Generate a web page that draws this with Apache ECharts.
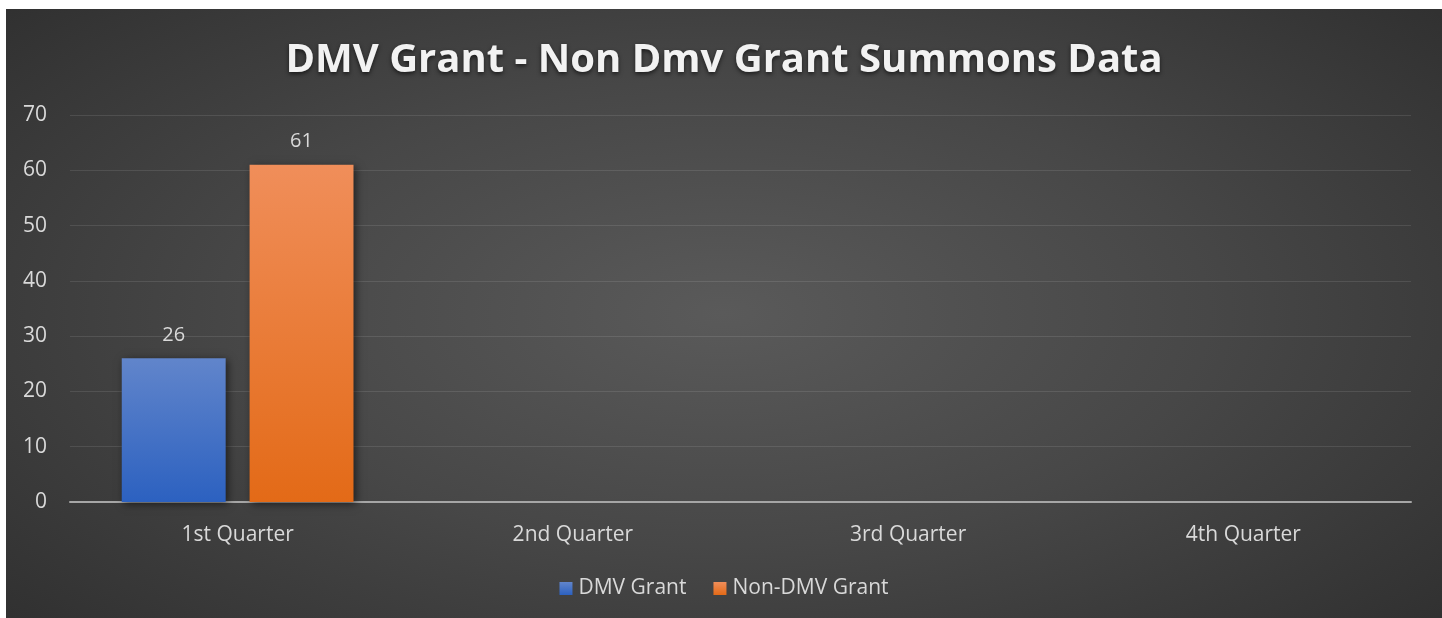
<!DOCTYPE html>
<html><head><meta charset="utf-8">
<script src="https://cdn.jsdelivr.net/npm/echarts@6/dist/echarts.min.js"></script>
<style>
html,body{margin:0;padding:0;background:#fff;width:1442px;height:618px;overflow:hidden}
#c{position:absolute;left:6px;top:9px;width:1436px;height:609px;
background:radial-gradient(ellipse 75% 85% at 50% 50%, #5a5a5a 0%, #474747 45%, #2b2b2b 100%);}
</style></head><body>
<div id="c"></div>
<script>
const categories = ['1st Quarter','2nd Quarter','3rd Quarter','4th Quarter'];
const dmvGrant = [26, null, null, null];
const nonDmvGrant = [61, null, null, null];
const yTicks = {min:0, max:70, interval:10};

const chart = echarts.init(document.getElementById('c'));
const lbl = {show:true, position:'top', distance:13, color:'#d9d9d9', fontSize:20, fontFamily:'Open Sans'};
chart.setOption({
  backgroundColor:'transparent',
  animation:false,
  title:{text:'DMV Grant - Non Dmv Grant Summons Data', left:'center', top:27,
    textStyle:{color:'#f2f2f2', fontSize:40, fontWeight:'bold', fontFamily:'Open Sans',
      textShadowColor:'rgba(0,0,0,0.6)', textShadowBlur:4, textShadowOffsetY:2}},
  grid:{left:64, right:31, top:106, bottom:116, containLabel:false},
  legend:{bottom:14, left:'center', itemWidth:13, itemHeight:13, itemGap:27, icon:'rect',
    textStyle:{color:'#d9d9d9', fontSize:21, fontFamily:'Open Sans', padding:[0,0,0,1]}},
  xAxis:{type:'category', data:categories,
    axisLine:{lineStyle:{color:'#a6a6a6', width:2}}, axisTick:{show:false},
    axisLabel:{color:'#d9d9d9', fontSize:21, fontFamily:'Open Sans', margin:23}},
  yAxis:{type:'value', min:yTicks.min, max:yTicks.max, interval:yTicks.interval,
    axisLine:{show:false}, axisTick:{show:false},
    axisLabel:{color:'#d9d9d9', fontSize:21, fontFamily:'Open Sans', margin:23},
    splitLine:{lineStyle:{color:'rgba(255,255,255,0.1)', width:1}}},
  series:[
    {name:'DMV Grant', type:'bar', data:dmvGrant, barWidth:'31%', barGap:'23%', label:lbl,
     itemStyle:{color:new echarts.graphic.LinearGradient(0,0,0,1,[{offset:0,color:'#6185cb'},{offset:1,color:'#2c61c0'}]),
       shadowColor:'rgba(0,0,0,0.55)', shadowBlur:8, shadowOffsetX:2, shadowOffsetY:2}},
    {name:'Non-DMV Grant', type:'bar', data:nonDmvGrant, barWidth:'31%', label:lbl,
     itemStyle:{color:new echarts.graphic.LinearGradient(0,0,0,1,[{offset:0,color:'#f08e5a'},{offset:1,color:'#e36a17'}]),
       shadowColor:'rgba(0,0,0,0.55)', shadowBlur:8, shadowOffsetX:2, shadowOffsetY:2}}
  ]
});
</script></body></html>
